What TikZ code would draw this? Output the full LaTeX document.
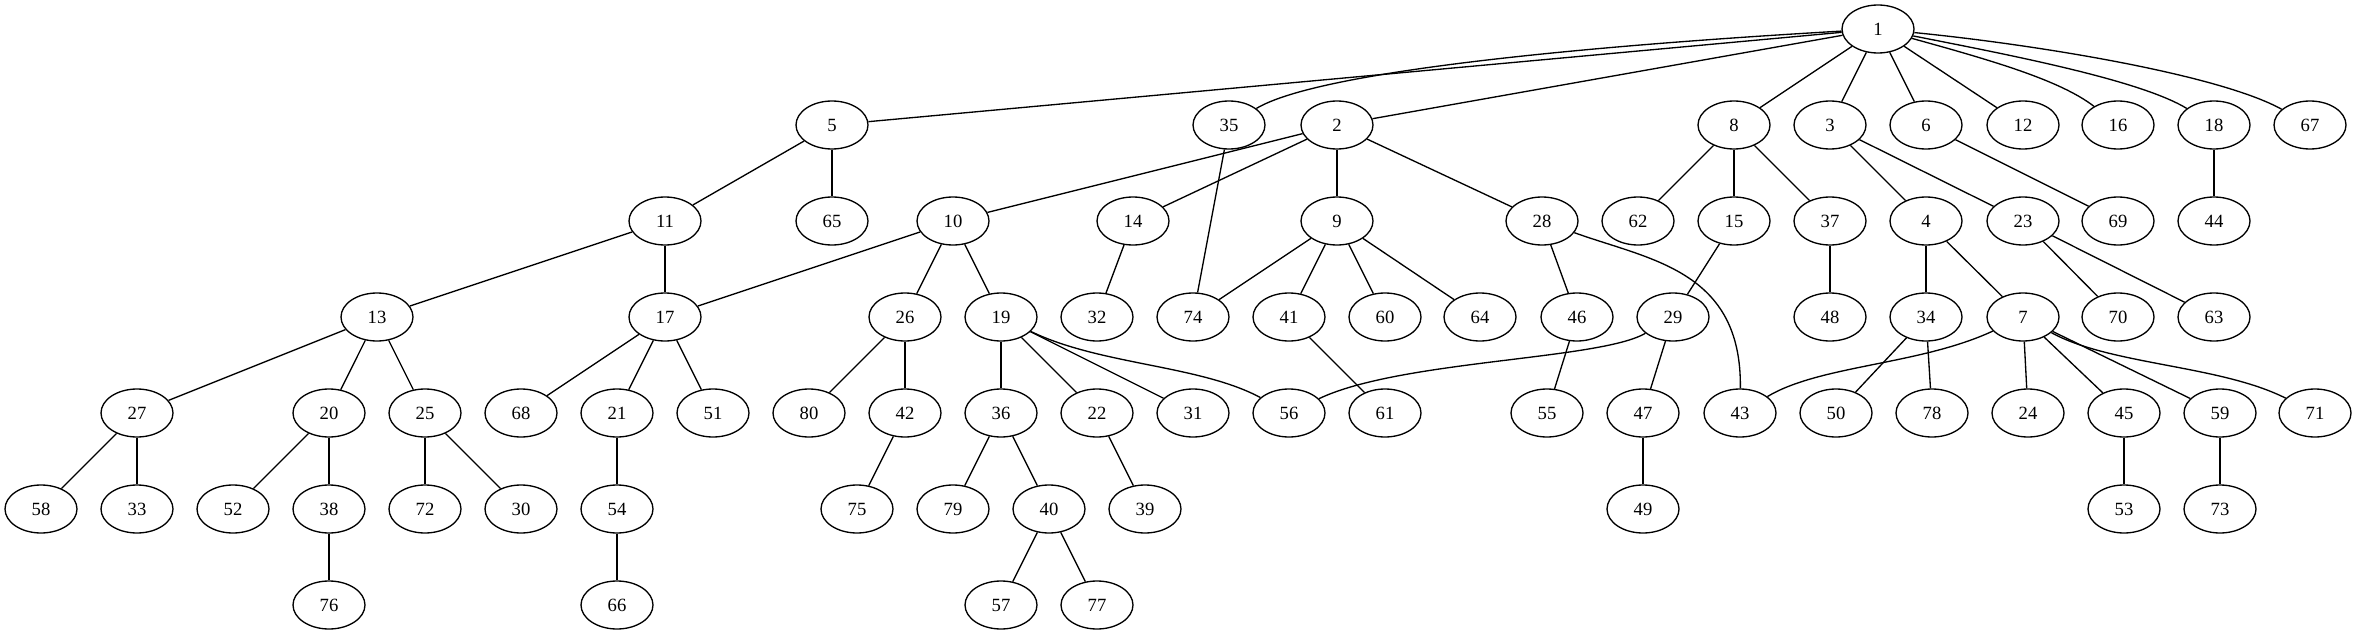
\documentclass[tikz,border=0pt]{standalone}
\usepackage{fontspec}
\setmainfont{Liberation Serif}
\usetikzlibrary{shapes.geometric}
\tikzset{
  gv/.style={ellipse, draw, line width=1pt, minimum width=54pt, minimum height=36pt, inner sep=0pt, font=\fontsize{14pt}{16pt}\selectfont},
  ed/.style={line width=1pt}
}
\begin{document}
\begin{tikzpicture}[x=0.75pt, y=-0.75pt]
\useasboundingbox (0,0) rectangle (2357,635);
\node[gv] (n1) at (1878,29) {1};
\foreach \n/\x in {5/832, 35/1229, 2/1337, 8/1734, 3/1830, 6/1926, 12/2023, 16/2118, 18/2214, 67/2310}
  \node[gv] (n\n) at (\x,125) {\n};
\foreach \n/\x in {11/665, 65/832, 10/953, 14/1133, 9/1337, 28/1542, 62/1638, 15/1734, 37/1830, 4/1926, 23/2023, 69/2118, 44/2214}
  \node[gv] (n\n) at (\x,221) {\n};
\foreach \n/\x in {13/377, 17/665, 26/905, 19/1001, 32/1097, 74/1193, 41/1289, 60/1385, 64/1480, 46/1577, 29/1673, 48/1830, 34/1926, 7/2023, 70/2118, 63/2214}
  \node[gv] (n\n) at (\x,317) {\n};
\foreach \n/\x in {27/137, 20/329, 25/425, 68/521, 21/617, 51/713, 80/809, 42/905, 36/1001, 22/1097, 31/1193, 56/1289, 61/1385, 55/1547, 47/1643, 43/1740, 50/1836, 78/1932, 24/2028, 45/2124, 59/2220, 71/2315}
  \node[gv] (n\n) at (\x,413) {\n};
\foreach \n/\x in {58/41, 33/137, 52/233, 38/329, 72/425, 30/521, 54/617, 75/857, 79/953, 40/1049, 39/1145, 49/1643, 53/2124, 73/2220}
  \node[gv] (n\n) at (\x,509) {\n};
\foreach \n/\x in {76/329, 66/617, 57/1001, 77/1097}
  \node[gv] (n\n) at (\x,605) {\n};
\foreach \a/\b in {1/5,1/2,1/8,1/3,1/6,1/12,5/11,5/65,35/74,2/10,2/14,2/9,2/28,8/62,8/15,8/37,3/4,3/23,6/69,18/44,11/13,11/17,10/17,10/26,10/19,14/32,9/74,9/41,9/60,9/64,28/46,15/29,37/48,4/34,4/7,23/70,23/63,13/27,13/20,13/25,17/68,17/21,17/51,26/80,26/42,19/36,19/22,19/31,41/61,46/55,29/47,34/50,34/78,7/24,7/45,7/59,27/58,27/33,20/52,20/38,25/72,25/30,21/54,42/75,36/79,36/40,22/39,47/49,45/53,59/73,38/76,54/66,40/57,40/77}
  \draw[ed] (n\a) -- (n\b);
\draw[ed] (n35) .. controls (1320,70) and (1600,45) .. (n1);
\draw[ed] (n1) .. controls (1990,60) and (2060,80) .. (n16);
\draw[ed] (n1) .. controls (2010,55) and (2140,80) .. (n18);
\draw[ed] (n1) .. controls (2040,45) and (2220,75) .. (n67);
\draw[ed] (n28) .. controls (1650,260) and (1742,270) .. (n43);
\draw[ed] (n19) .. controls (1100,365) and (1200,365) .. (n56);
\draw[ed] (n29) .. controls (1600,360) and (1400,360) .. (n56);
\draw[ed] (n7) .. controls (1920,365) and (1820,365) .. (n43);
\draw[ed] (n7) .. controls (2110,365) and (2220,365) .. (n71);
\end{tikzpicture}
\end{document}
